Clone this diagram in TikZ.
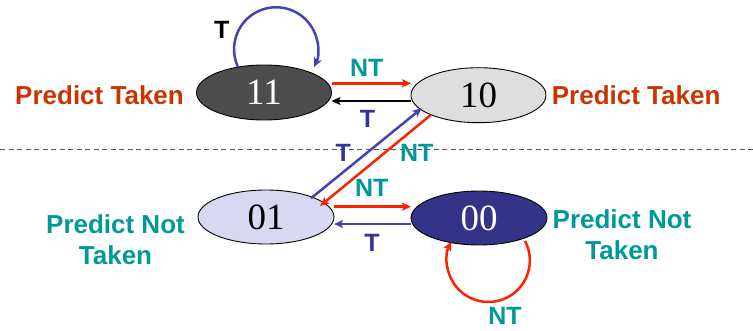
\documentclass[tikz,border=0pt]{standalone}
\usepackage{fontspec}
\setmainfont{Liberation Sans}
\newfontfamily\digitfont{Liberation Serif}
\usetikzlibrary{shapes.geometric,arrows.meta,calc}
\definecolor{predT}{HTML}{CC3300}
\definecolor{tealc}{HTML}{009999}
\definecolor{bluec}{HTML}{4343B3}
\definecolor{bluet}{HTML}{333399}
\definecolor{redc}{HTML}{FF2200}
\definecolor{fillA}{HTML}{4D4D4D}
\definecolor{fillB}{HTML}{DEDEDE}
\definecolor{fillC}{HTML}{D8D8F2}
\definecolor{fillD}{HTML}{333388}
\definecolor{dashc}{HTML}{555555}
\begin{document}
\begin{tikzpicture}[x=1pt,y=1pt,
  state/.style={ellipse, draw=black, line width=0.9pt, minimum width=135pt, minimum height=55pt, inner sep=0pt, font=\digitfont\fontsize{37}{37}\selectfont},
  arr/.style={line width=2.5pt, -{Stealth[length=9pt,width=8pt,inset=2pt]}},
  lbl/.style={font=\bfseries\fontsize{25}{25}\selectfont, inner sep=0pt},
  side/.style={font=\bfseries\fontsize{26}{31}\selectfont, inner sep=0pt, align=center},
]
\useasboundingbox (0,0) rectangle (753,330);

% dashed separator
\draw[dashc, line width=0.8pt, dash pattern=on 5pt off 3.5pt] (0,181) -- (753,181);

% states
\node[state, fill=fillA, text=white] (n11) at (264,237.5) {11};
\node[state, fill=fillB] (n10) at (478.5,234.8) {10};
\node[state, fill=fillC, minimum width=136pt, minimum height=54pt] (n01) at (266,113) {01};
\node[state, fill=fillD, text=white, minimum width=136pt, minimum height=54pt] (n00) at (479,112) {00};

% side labels
\node[side, text=predT, anchor=base east] (pl) at (184,225) {Predict Taken};
\node[side, text=predT, anchor=base west] (pr) at (551.7,225) {Predict Taken};
\node[side, text=tealc] (nl) at (115.5,90.3) {Predict Not\\Taken};
\node[side, text=tealc] (nr) at (622,95.3) {Predict Not\\Taken};

% transitions between 11 and 10
\draw[arr, redc] ($(n11.center)+(67.5,9.2)$) -- ($(n10.center)+(-67.5,11.9)$);
\draw[arr, black] ($(n10.center)+(-67.5,-5.8)$) -- ($(n11.center)+(67.5,-8.5)$);
% transitions between 01 and 00
\draw[arr, redc] ($(n01.center)+(68,10.3)$) -- ($(n00.center)+(-68,11.3)$);
\draw[arr, bluec] ($(n00.center)+(-68,-6)$) -- ($(n01.center)+(68,-7)$);
% diagonals
\draw[arr, bluec] ($(n01.center)+(45,18.7)$) -- ($(n10.center)+(-56.8,-13.1)$);
\draw[arr, redc] ($(n10.center)+(-47.8,-19.8)$) -- ($(n01.center)+(54,11)$);
% self loops
\draw[arr, bluec] ($(n11.center)+(-26,25.5)$) arc[start angle=205, end angle=-25, radius=42];
\draw[arr, redc] ($(n00.center)+(46,-23)$) arc[start angle=28, end angle=-207, radius=41.5];

% edge labels
\node[lbl, text=black] (l1) at (221.7,300) {T};
\node[lbl, text=tealc] (l2) at (366.7,261.7) {NT};
\node[lbl, text=bluet] (l3) at (367.5,211) {T};
\node[lbl, text=bluet] (l4) at (343.3,176.7) {T};
\node[lbl, text=tealc] (l5) at (416.7,177) {NT};
\node[lbl, text=tealc] (l6) at (371.7,141.7) {NT};
\node[lbl, text=bluet] (l7) at (372,87.3) {T};
\node[lbl, text=tealc] (l8) at (505,14) {NT};
\end{tikzpicture}
\end{document}
